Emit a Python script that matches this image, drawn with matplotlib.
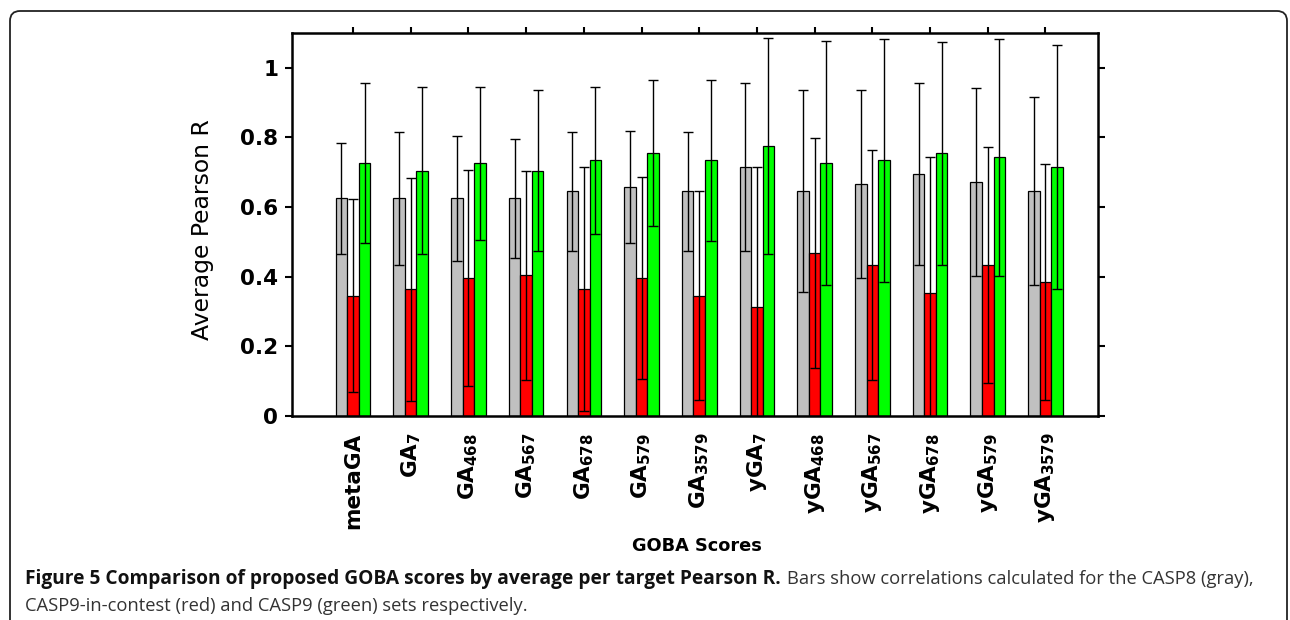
import matplotlib
matplotlib.use("Agg")
import matplotlib.pyplot as plt
import numpy as np
from matplotlib.patches import FancyBboxPatch
from matplotlib.transforms import IdentityTransform

plt.rcParams["mathtext.default"] = "regular"

labels = ["metaGA", "GA$_{7}$", "GA$_{468}$", "GA$_{567}$", "GA$_{678}$",
          "GA$_{579}$", "GA$_{3579}$", "yGA$_{7}$", "yGA$_{468}$",
          "yGA$_{567}$", "yGA$_{678}$", "yGA$_{579}$", "yGA$_{3579}$"]

casp8 = [0.625, 0.625, 0.625, 0.625, 0.645, 0.658, 0.645, 0.715, 0.645, 0.665, 0.695, 0.673, 0.645]
casp8_err = [0.16, 0.19, 0.18, 0.17, 0.17, 0.16, 0.17, 0.24, 0.29, 0.27, 0.26, 0.27, 0.27]
casp9_in = [0.346, 0.364, 0.396, 0.404, 0.364, 0.396, 0.346, 0.314, 0.467, 0.434, 0.354, 0.434, 0.385]
casp9_in_err = [0.278, 0.32, 0.31, 0.30, 0.35, 0.29, 0.30, 0.40, 0.33, 0.33, 0.39, 0.34, 0.34]
casp9 = [0.726, 0.705, 0.726, 0.705, 0.734, 0.755, 0.734, 0.776, 0.726, 0.734, 0.755, 0.743, 0.715]
casp9_err = [0.229, 0.24, 0.22, 0.23, 0.21, 0.21, 0.23, 0.31, 0.35, 0.35, 0.32, 0.34, 0.35]

yticks = [0, 0.2, 0.4, 0.6, 0.8, 1.0]
yticklabels = ["0", "0.2", "0.4", "0.6", "0.8", "1"]

fig = plt.figure(figsize=(12.9, 6.2), dpi=100)
ax = fig.add_axes([292 / 1290, 1 - 416 / 620, 806 / 1290, 383 / 620])

x = np.arange(len(labels))
w = 0.2
series = [(casp8, casp8_err, "#c0c0c0", -w), (casp9_in, casp9_in_err, "#ff0000", 0), (casp9, casp9_err, "#00ff00", w)]
for vals, errs, col, off in series:
    ax.bar(x + off, vals, w, color=col, edgecolor="black", linewidth=0.9, zorder=2)
for vals, errs, col, off in series:
    ax.errorbar(x + off, vals, yerr=errs, fmt="none", ecolor="black", elinewidth=1.0,
                capsize=3.6, capthick=1.0, zorder=3)

ax.set_xlim(-1.057, 12.91)
ax.set_ylim(0, 1.1)
ax.set_yticks(yticks)
ax.set_yticklabels(yticklabels, fontsize=15.5, fontweight="bold")
ax.set_xticks(x)
ax.set_xticklabels(labels, rotation=90, fontsize=15.5, fontweight="bold")
ax.tick_params(axis="x", which="both", bottom=True, top=True, length=4, width=1.5, direction="out", pad=8)
ax.tick_params(axis="x", bottom=False)
ax.tick_params(axis="y", which="both", left=True, right=True, length=5, width=1.5, direction="out", pad=5)
for s in ax.spines.values():
    s.set_linewidth(1.8)
ax.set_ylabel("Average Pearson R", fontsize=16.9)
ax.yaxis.set_label_coords(-0.097, 0.486)

fig.text(697 / 1290, 1 - 551 / 620, "GOBA Scores", fontsize=12.8, fontweight="bold",
         ha="center", va="baseline")

# caption
cap_font = ["Open Sans", "DejaVu Sans"]
r = fig.canvas.get_renderer()
t1 = fig.text(25 / 1290, 1 - 584 / 620, "Figure 5 Comparison of proposed GOBA scores by average per target Pearson R.",
              fontsize=13.8, fontweight="bold", family=cap_font, color="#111111", va="baseline")
bb = t1.get_window_extent(renderer=r)
fig.text((bb.x1 + 6) / 1290, 1 - 584 / 620, "Bars show correlations calculated for the CASP8 (gray),",
         fontsize=13.2, family=cap_font, color="#333333", va="baseline")
fig.text(25 / 1290, 1 - 611 / 620, "CASP9-in-contest (red) and CASP9 (green) sets respectively.",
         fontsize=13.2, family=cap_font, color="#333333", va="baseline")

frame = FancyBboxPatch((10, -40), 1277, 620 - 11 + 40, boxstyle="round,pad=0,rounding_size=10",
                       transform=IdentityTransform(), fill=False, linewidth=1.3, edgecolor="#222222")
fig.patches.append(frame)

fig.savefig("out.png", dpi=100)
